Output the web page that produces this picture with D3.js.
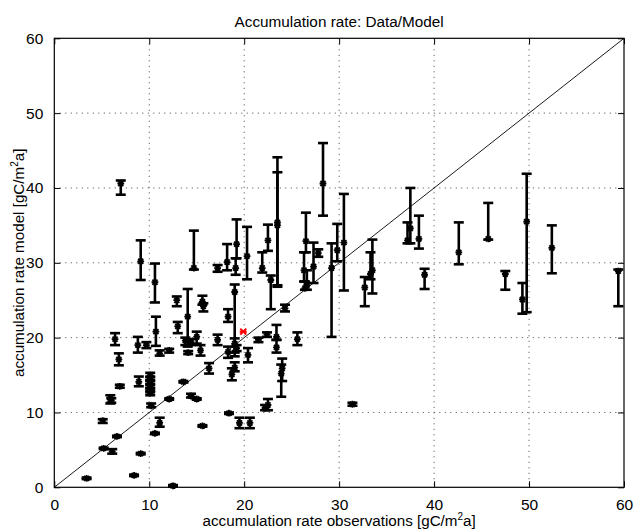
<!DOCTYPE html>
<html><head><meta charset="utf-8">
<script src="https://cdn.jsdelivr.net/npm/d3@7"></script>
<style>body{margin:0;background:#fff}svg{display:block}text{font-family:"Liberation Sans",Arial,Helvetica,sans-serif;fill:#000}</style>
</head><body><svg id="c" width="634" height="529"></svg>
<script>
// observations (x), model value (y), lower and upper error bounds
const obsX =    [7.0,9.1,10.6,14.7,17.2,18.2,19.2,19.1,19.0,20.3,21.9,22.5,22.8,23.5,23.5,28.3,26.5,26.3,26.6,26.4,27.3,27.8,29.2,29.8,30.5,32.7,33.5,33.3,37.5,37.2,38.4,39.0,42.6,45.7,47.5,49.75,49.3,52.4,59.4,31.4,
                 6.4,6.8,8.8,9.7,10.7,11.1,12.1,12.9,13.0,14.05,13.8,14.4,15.0,14.1,15.4,15.6,15.7,16.3,17.2,18.3,18.3,18.7,19.0,19.0,19.2,20.4,21.5,22.4,23.4,23.4,24.0,23.9,24.3,25.6,
                 6.9,8.9,10.1,10.1,10.1,10.1,10.1,10.1,5.9,6.0,10.2,12.1,13.6,14.4,15.0,5.1,11.1,6.6,10.6,15.6,5.2,6.1,9.1,8.4,3.4,12.5,18.4,19.5,20.6,22.5,22.2];
const modelY =  [40.6,30.2,27.4,29.3,29.3,30.1,32.5,29.3,26.1,30.9,29.3,33.0,27.7,35.4,35.0,40.6,32.9,29.0,27.0,26.6,29.5,31.3,29.3,31.7,32.7,26.7,29.0,28.5,34.6,33.0,33.2,28.4,31.4,33.2,28.5,35.5,25.1,32.0,28.9,11.1,
                 19.8,17.1,19.0,19.0,20.8,17.9,18.3,25.0,21.5,22.8,19.6,19.4,20.1,18.0,18.3,24.8,24.2,15.9,19.7,22.8,18.1,15.1,16.0,19.2,18.6,17.7,19.7,20.4,20.1,18.7,15.9,15.2,23.9,19.8,
                 13.5,14.1,15.0,14.5,14.0,13.5,13.0,12.6,11.8,11.6,10.9,11.8,14.1,12.2,11.8,8.9,8.6,6.8,7.2,8.2,5.2,4.8,4.5,1.6,1.2,0.2,9.9,8.6,8.6,11.0,10.6];
const errLow =  [39.1,27.7,24.7,29.1,28.8,29.0,30.6,28.4,17.5,27.8,28.7,31.6,23.8,26.8,27.0,36.3,31.4,27.5,26.4,26.4,27.3,30.8,20.1,30.2,26.3,24.2,25.9,27.8,32.6,32.6,31.9,26.5,29.8,33.1,26.4,23.4,23.2,28.6,24.2,10.9,
                 19.0,16.3,18.0,18.6,18.9,17.6,18.0,24.2,20.6,18.8,19.0,19.0,19.2,17.8,17.6,24.4,23.5,15.2,19.0,22.1,17.3,14.3,15.5,18.0,18.2,16.7,19.4,20.1,19.7,18.0,14.2,12.1,23.5,19.0,
                 13.3,13.5,14.7,14.2,13.7,13.2,12.7,12.3,11.2,11.3,10.7,11.7,14.0,12.0,11.7,8.6,8.1,6.7,7.1,8.1,5.1,4.5,4.4,1.5,1.1,0.1,9.8,7.9,7.9,10.3,10.3];
const errHigh = [41.0,33.0,29.9,34.3,29.7,32.5,35.8,30.6,27.1,34.8,31.4,35.1,28.3,44.1,42.1,46.0,36.7,31.4,29.0,27.5,32.7,31.8,32.6,35.2,39.2,28.1,33.1,31.4,40.0,35.4,36.3,29.2,35.4,38.0,28.9,41.9,27.3,35.0,29.1,11.3,
                 20.6,17.9,20.1,19.4,22.8,18.3,18.5,25.5,22.1,26.5,20.0,19.8,20.8,18.2,19.0,25.6,24.6,16.6,20.4,23.8,18.8,15.9,16.7,19.9,19.0,18.6,20.0,20.7,21.7,19.7,17.2,16.4,24.4,20.7,
                 13.7,14.8,15.3,14.8,14.3,13.8,13.3,12.9,12.3,11.9,11.2,11.9,14.2,12.5,11.9,9.1,9.3,6.9,7.3,8.3,5.3,5.1,4.6,1.7,1.3,0.3,10.0,9.3,9.3,11.8,11.0];
// highlighted point (red)
const redX = [19.9];
const redY = [20.8];
const xTicks = [0,10,20,30,40,50,60];
const yTicks = [0,10,20,30,40,50,60];
const titleText = "Accumulation rate: Data/Model";

const svg = d3.select("#c");
const L = 54.3, T = 38.3, R = 624, B = 487.3;
const x = d3.scaleLinear().domain([0,60]).range([L,R]);
const y = d3.scaleLinear().domain([0,60]).range([B,T]);

// grid
const grid = svg.append("g").attr("stroke","#444").attr("stroke-width",1).attr("stroke-dasharray","1,4.5");
xTicks.slice(1,-1).forEach(t=>grid.append("line").attr("x1",x(t)).attr("x2",x(t)).attr("y1",T).attr("y2",B));
yTicks.slice(1,-1).forEach(t=>grid.append("line").attr("y1",y(t)).attr("y2",y(t)).attr("x1",L).attr("x2",R));

// axes with inward ticks
const fs = 15.5;
const ax = svg.append("g").attr("transform",`translate(0,${B})`).call(d3.axisBottom(x).tickValues(xTicks).tickSizeInner(-6).tickSizeOuter(0).tickPadding(12));
const axT = svg.append("g").attr("transform",`translate(0,${T})`).call(d3.axisTop(x).tickValues(xTicks).tickSizeInner(-6).tickSizeOuter(0).tickFormat(""));
const ay = svg.append("g").attr("transform",`translate(${L},0)`).call(d3.axisLeft(y).tickValues(yTicks).tickSizeInner(-6).tickSizeOuter(0).tickPadding(11));
const ayR = svg.append("g").attr("transform",`translate(${R},0)`).call(d3.axisRight(y).tickValues(yTicks).tickSizeInner(-6).tickSizeOuter(0).tickFormat(""));
[ax,axT,ay,ayR].forEach(g=>{g.select(".domain").remove();g.selectAll("line").attr("stroke","#000");g.selectAll("text").attr("font-size",fs).attr("font-family",'"Liberation Sans",Arial,sans-serif');});

// diagonal 1:1
svg.append("line").attr("x1",x(0)).attr("y1",y(0)).attr("x2",x(60)).attr("y2",y(60)).attr("stroke","#000").attr("stroke-width",0.9);

// error bars
const idx = d3.range(obsX.length);
const eb = svg.append("g").attr("stroke","#000").attr("stroke-width",2.6).attr("fill","none");
const cw = 5;
idx.forEach(i=>{
  const xp = x(obsX[i]);
  eb.append("line").attr("x1",xp).attr("x2",xp).attr("y1",y(errLow[i])).attr("y2",y(errHigh[i]));
  eb.append("line").attr("x1",xp-cw).attr("x2",xp+cw).attr("y1",y(errLow[i])).attr("y2",y(errLow[i]));
  eb.append("line").attr("x1",xp-cw).attr("x2",xp+cw).attr("y1",y(errHigh[i])).attr("y2",y(errHigh[i]));
});
// markers '*'
const star = (s)=>`M${-s},0L${s},0M0,${-s}L0,${s}M${-s*0.75},${-s*0.75}L${s*0.75},${s*0.75}M${-s*0.75},${s*0.75}L${s*0.75},${-s*0.75}`;
svg.append("g").selectAll("path").data(idx).join("path")
  .attr("transform",i=>`translate(${x(obsX[i])},${y(modelY[i])})`)
  .attr("d",star(3.4)).attr("stroke","#000").attr("stroke-width",1.8).attr("fill","none");
svg.append("g").selectAll("path").data(redX).join("path")
  .attr("transform",(d,i)=>`translate(${x(d)},${y(redY[i])})`)
  .attr("d","M-3,-3L3,3M-3,3L3,-3M-3.5,0L3.5,0").attr("stroke","#f00").attr("stroke-width",2).attr("fill","none");

// frame
svg.append("rect").attr("x",L).attr("y",T).attr("width",R-L).attr("height",B-T).attr("fill","none").attr("stroke","#000").attr("stroke-width",1.2);

// title and labels
svg.append("text").attr("x",(L+R)/2).attr("y",26.5).attr("text-anchor","middle").attr("font-size",15.3).text(titleText);
const xl = svg.append("text").attr("x",(L+R)/2).attr("y",526).attr("text-anchor","middle").attr("font-size",15.2);
xl.append("tspan").text("accumulation rate observations [gC/m");
xl.append("tspan").attr("font-size",10).attr("dy",-6).text("2");
xl.append("tspan").attr("dy",6).text("a]");
const yl = svg.append("text").attr("transform",`translate(24,${(T+B)/2}) rotate(-90)`).attr("text-anchor","middle").attr("font-size",15.2);
yl.append("tspan").text("accumulation rate model [gC/m");
yl.append("tspan").attr("font-size",10).attr("dy",-6).text("2");
yl.append("tspan").attr("dy",6).text("a]");
</script></body></html>
